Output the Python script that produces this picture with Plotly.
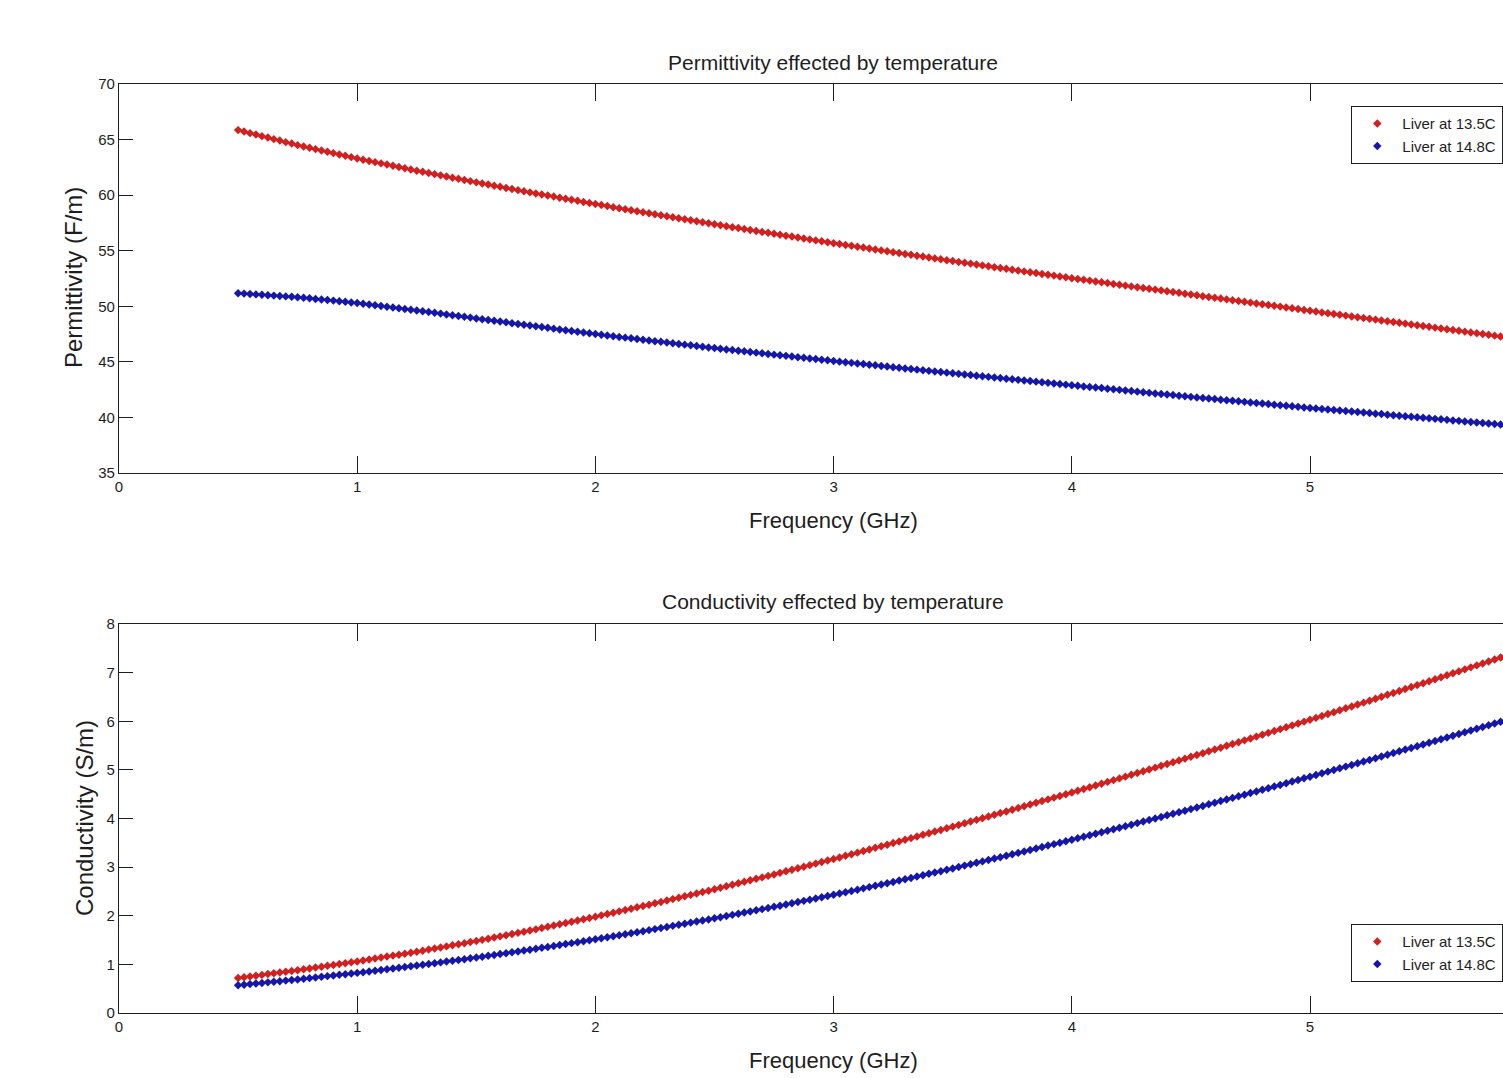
import plotly.graph_objects as go

# ---------------- data ----------------
freq_ghz = [
    0.5, 0.525, 0.55, 0.575, 0.6, 0.625, 0.65, 0.675, 0.7, 0.725,
    0.75, 0.775, 0.8, 0.825, 0.85, 0.875, 0.9, 0.925, 0.95, 0.975,
    1.0, 1.025, 1.05, 1.075, 1.1, 1.125, 1.15, 1.175, 1.2, 1.225,
    1.25, 1.275, 1.3, 1.325, 1.35, 1.375, 1.4, 1.425, 1.45, 1.475,
    1.5, 1.525, 1.55, 1.575, 1.6, 1.625, 1.65, 1.675, 1.7, 1.725,
    1.75, 1.775, 1.8, 1.825, 1.85, 1.875, 1.9, 1.925, 1.95, 1.975,
    2.0, 2.025, 2.05, 2.075, 2.1, 2.125, 2.15, 2.175, 2.2, 2.225,
    2.25, 2.275, 2.3, 2.325, 2.35, 2.375, 2.4, 2.425, 2.45, 2.475,
    2.5, 2.525, 2.55, 2.575, 2.6, 2.625, 2.65, 2.675, 2.7, 2.725,
    2.75, 2.775, 2.8, 2.825, 2.85, 2.875, 2.9, 2.925, 2.95, 2.975,
    3.0, 3.025, 3.05, 3.075, 3.1, 3.125, 3.15, 3.175, 3.2, 3.225,
    3.25, 3.275, 3.3, 3.325, 3.35, 3.375, 3.4, 3.425, 3.45, 3.475,
    3.5, 3.525, 3.55, 3.575, 3.6, 3.625, 3.65, 3.675, 3.7, 3.725,
    3.75, 3.775, 3.8, 3.825, 3.85, 3.875, 3.9, 3.925, 3.95, 3.975,
    4.0, 4.025, 4.05, 4.075, 4.1, 4.125, 4.15, 4.175, 4.2, 4.225,
    4.25, 4.275, 4.3, 4.325, 4.35, 4.375, 4.4, 4.425, 4.45, 4.475,
    4.5, 4.525, 4.55, 4.575, 4.6, 4.625, 4.65, 4.675, 4.7, 4.725,
    4.75, 4.775, 4.8, 4.825, 4.85, 4.875, 4.9, 4.925, 4.95, 4.975,
    5.0, 5.025, 5.05, 5.075, 5.1, 5.125, 5.15, 5.175, 5.2, 5.225,
    5.25, 5.275, 5.3, 5.325, 5.35, 5.375, 5.4, 5.425, 5.45, 5.475,
    5.5, 5.525, 5.55, 5.575, 5.6, 5.625, 5.65, 5.675, 5.7, 5.725,
    5.75, 5.775, 5.8, 5.825,
]

perm_liver_13_5 = [
    65.85, 65.72, 65.58, 65.45, 65.31, 65.18, 65.04, 64.91, 64.77, 64.64,
    64.50, 64.38, 64.26, 64.14, 64.02, 63.90, 63.78, 63.66, 63.54, 63.42,
    63.30, 63.19, 63.08, 62.97, 62.86, 62.75, 62.64, 62.53, 62.42, 62.31,
    62.20, 62.10, 61.99, 61.89, 61.78, 61.68, 61.57, 61.47, 61.36, 61.26,
    61.15, 61.05, 60.95, 60.85, 60.75, 60.65, 60.55, 60.45, 60.35, 60.25,
    60.15, 60.06, 59.96, 59.87, 59.77, 59.68, 59.58, 59.49, 59.39, 59.30,
    59.20, 59.11, 59.02, 58.92, 58.83, 58.74, 58.65, 58.56, 58.46, 58.37,
    58.28, 58.19, 58.10, 58.01, 57.92, 57.83, 57.74, 57.65, 57.56, 57.47,
    57.38, 57.29, 57.21, 57.12, 57.04, 56.95, 56.86, 56.78, 56.69, 56.61,
    56.52, 56.44, 56.35, 56.27, 56.18, 56.10, 56.02, 55.93, 55.85, 55.76,
    55.68, 55.60, 55.52, 55.44, 55.36, 55.28, 55.19, 55.11, 55.03, 54.95,
    54.87, 54.79, 54.71, 54.63, 54.55, 54.47, 54.39, 54.31, 54.23, 54.15,
    54.07, 53.99, 53.91, 53.84, 53.76, 53.68, 53.60, 53.52, 53.45, 53.37,
    53.29, 53.21, 53.14, 53.06, 52.99, 52.91, 52.83, 52.76, 52.68, 52.61,
    52.53, 52.46, 52.38, 52.31, 52.23, 52.16, 52.09, 52.01, 51.94, 51.86,
    51.79, 51.72, 51.64, 51.57, 51.50, 51.43, 51.35, 51.28, 51.21, 51.13,
    51.06, 50.99, 50.91, 50.84, 50.77, 50.70, 50.62, 50.55, 50.48, 50.40,
    50.33, 50.26, 50.18, 50.11, 50.04, 49.97, 49.89, 49.82, 49.75, 49.67,
    49.60, 49.53, 49.45, 49.38, 49.31, 49.24, 49.16, 49.09, 49.02, 48.94,
    48.87, 48.80, 48.73, 48.65, 48.58, 48.51, 48.44, 48.37, 48.29, 48.22,
    48.15, 48.08, 48.01, 47.93, 47.86, 47.79, 47.72, 47.65, 47.57, 47.50,
    47.43, 47.36, 47.28, 47.21,
]

perm_liver_14_8 = [
    51.17, 51.14, 51.10, 51.07, 51.03, 51.00, 50.96, 50.93, 50.89, 50.86,
    50.82, 50.77, 50.72, 50.66, 50.61, 50.56, 50.51, 50.46, 50.40, 50.35,
    50.30, 50.23, 50.16, 50.10, 50.03, 49.96, 49.89, 49.82, 49.76, 49.69,
    49.62, 49.55, 49.48, 49.41, 49.34, 49.27, 49.19, 49.12, 49.05, 48.98,
    48.91, 48.84, 48.77, 48.70, 48.63, 48.56, 48.48, 48.41, 48.34, 48.27,
    48.20, 48.13, 48.06, 47.99, 47.92, 47.85, 47.78, 47.71, 47.64, 47.57,
    47.50, 47.44, 47.37, 47.31, 47.24, 47.18, 47.12, 47.05, 46.99, 46.92,
    46.86, 46.80, 46.74, 46.67, 46.61, 46.55, 46.49, 46.43, 46.36, 46.30,
    46.24, 46.18, 46.12, 46.06, 46.00, 45.95, 45.89, 45.83, 45.77, 45.71,
    45.65, 45.59, 45.54, 45.48, 45.42, 45.37, 45.31, 45.25, 45.19, 45.14,
    45.08, 45.02, 44.97, 44.91, 44.86, 44.80, 44.74, 44.69, 44.63, 44.58,
    44.52, 44.47, 44.41, 44.36, 44.30, 44.25, 44.19, 44.14, 44.08, 44.03,
    43.97, 43.92, 43.86, 43.81, 43.75, 43.70, 43.65, 43.59, 43.54, 43.48,
    43.43, 43.38, 43.32, 43.27, 43.22, 43.17, 43.11, 43.06, 43.01, 42.95,
    42.90, 42.85, 42.79, 42.74, 42.69, 42.64, 42.58, 42.53, 42.48, 42.42,
    42.37, 42.32, 42.27, 42.21, 42.16, 42.11, 42.06, 42.01, 41.95, 41.90,
    41.85, 41.80, 41.75, 41.70, 41.65, 41.60, 41.55, 41.50, 41.45, 41.40,
    41.35, 41.30, 41.25, 41.20, 41.15, 41.10, 41.05, 41.00, 40.95, 40.90,
    40.85, 40.80, 40.76, 40.71, 40.67, 40.62, 40.57, 40.53, 40.48, 40.44,
    40.39, 40.34, 40.30, 40.25, 40.20, 40.16, 40.11, 40.06, 40.01, 39.97,
    39.92, 39.87, 39.83, 39.78, 39.73, 39.69, 39.64, 39.59, 39.54, 39.50,
    39.45, 39.40, 39.36, 39.31,
]

cond_liver_13_5 = [
    0.720, 0.736, 0.752, 0.768, 0.784, 0.800, 0.816, 0.832, 0.848, 0.864,
    0.880, 0.898, 0.916, 0.934, 0.952, 0.970, 0.988, 1.006, 1.024, 1.042,
    1.060, 1.080, 1.100, 1.120, 1.140, 1.160, 1.180, 1.200, 1.220, 1.240,
    1.260, 1.282, 1.304, 1.326, 1.348, 1.370, 1.392, 1.414, 1.436, 1.458,
    1.480, 1.504, 1.528, 1.552, 1.576, 1.600, 1.624, 1.648, 1.672, 1.696,
    1.720, 1.746, 1.772, 1.798, 1.824, 1.850, 1.876, 1.902, 1.928, 1.954,
    1.980, 2.008, 2.035, 2.063, 2.090, 2.118, 2.145, 2.173, 2.200, 2.228,
    2.255, 2.284, 2.313, 2.342, 2.371, 2.400, 2.429, 2.458, 2.487, 2.516,
    2.545, 2.576, 2.606, 2.637, 2.667, 2.698, 2.728, 2.759, 2.789, 2.820,
    2.850, 2.882, 2.914, 2.945, 2.977, 3.009, 3.041, 3.072, 3.104, 3.136,
    3.168, 3.200, 3.233, 3.266, 3.298, 3.331, 3.364, 3.397, 3.429, 3.462,
    3.495, 3.529, 3.563, 3.596, 3.630, 3.664, 3.698, 3.731, 3.765, 3.799,
    3.833, 3.867, 3.902, 3.937, 3.972, 4.006, 4.041, 4.076, 4.111, 4.145,
    4.180, 4.216, 4.251, 4.287, 4.322, 4.358, 4.393, 4.429, 4.464, 4.500,
    4.535, 4.571, 4.608, 4.644, 4.680, 4.716, 4.753, 4.789, 4.825, 4.861,
    4.898, 4.935, 4.972, 5.009, 5.046, 5.083, 5.120, 5.157, 5.194, 5.231,
    5.268, 5.305, 5.343, 5.381, 5.419, 5.456, 5.494, 5.532, 5.570, 5.607,
    5.645, 5.684, 5.722, 5.761, 5.799, 5.838, 5.876, 5.915, 5.953, 5.992,
    6.030, 6.069, 6.109, 6.148, 6.187, 6.226, 6.266, 6.305, 6.344, 6.383,
    6.423, 6.463, 6.503, 6.543, 6.583, 6.623, 6.663, 6.703, 6.743, 6.783,
    6.823, 6.863, 6.904, 6.945, 6.986, 7.026, 7.067, 7.108, 7.149, 7.189,
    7.230, 7.271, 7.313, 7.354,
]

cond_liver_14_8 = [
    0.570, 0.582, 0.594, 0.606, 0.618, 0.630, 0.642, 0.654, 0.666, 0.678,
    0.690, 0.704, 0.717, 0.731, 0.744, 0.758, 0.771, 0.785, 0.798, 0.812,
    0.825, 0.840, 0.855, 0.870, 0.885, 0.900, 0.915, 0.930, 0.945, 0.960,
    0.975, 0.992, 1.008, 1.025, 1.041, 1.058, 1.074, 1.091, 1.107, 1.124,
    1.140, 1.158, 1.176, 1.194, 1.212, 1.230, 1.248, 1.266, 1.284, 1.302,
    1.320, 1.340, 1.359, 1.379, 1.398, 1.418, 1.437, 1.457, 1.476, 1.496,
    1.515, 1.536, 1.557, 1.578, 1.599, 1.620, 1.641, 1.662, 1.683, 1.704,
    1.725, 1.747, 1.770, 1.792, 1.814, 1.836, 1.859, 1.881, 1.903, 1.925,
    1.948, 1.971, 1.995, 2.018, 2.042, 2.065, 2.089, 2.112, 2.136, 2.159,
    2.183, 2.207, 2.232, 2.257, 2.282, 2.306, 2.331, 2.356, 2.381, 2.405,
    2.430, 2.457, 2.483, 2.510, 2.536, 2.563, 2.589, 2.616, 2.642, 2.669,
    2.695, 2.723, 2.751, 2.778, 2.806, 2.834, 2.862, 2.889, 2.917, 2.945,
    2.973, 3.002, 3.031, 3.060, 3.089, 3.118, 3.147, 3.176, 3.205, 3.234,
    3.263, 3.293, 3.323, 3.353, 3.383, 3.413, 3.443, 3.473, 3.503, 3.533,
    3.563, 3.594, 3.625, 3.656, 3.687, 3.718, 3.749, 3.780, 3.811, 3.842,
    3.873, 3.905, 3.937, 3.969, 4.001, 4.033, 4.065, 4.097, 4.129, 4.161,
    4.193, 4.226, 4.259, 4.292, 4.325, 4.358, 4.391, 4.424, 4.457, 4.490,
    4.523, 4.556, 4.590, 4.624, 4.658, 4.691, 4.725, 4.759, 4.793, 4.826,
    4.860, 4.895, 4.929, 4.964, 4.998, 5.033, 5.067, 5.102, 5.136, 5.171,
    5.205, 5.240, 5.276, 5.311, 5.346, 5.381, 5.417, 5.452, 5.487, 5.522,
    5.558, 5.594, 5.630, 5.666, 5.702, 5.738, 5.774, 5.810, 5.846, 5.882,
    5.918, 5.954, 5.991, 6.027,
]

series_names = ["Liver at 13.5C", "Liver at 14.8C"]
x_tick_values = [0, 1, 2, 3, 4, 5, 6]
perm_tick_values = [35, 40, 45, 50, 55, 60, 65, 70]
cond_tick_values = [0, 1, 2, 3, 4, 5, 6, 7, 8]

title_top = "Permittivity effected by temperature"
title_bottom = "Conductivity effected by temperature"
xlabel = "Frequency (GHz)"
ylabel_top = "Permittivity (F/m)"
ylabel_bottom = "Conductivity (S/m)"

# ---------------- styling ----------------
W, H = 1503, 1078
LEFT = 119
FONT = "Liberation Sans, Arial, Helvetica, sans-serif"
RED = "rgb(208,32,32)"
BLUE = "rgb(22,22,168)"
INK = "#1e1e1e"

def py(px):  # pixel row -> paper y (margins are zero top/bottom)
    return 1 - px / H

def px_x(px):  # pixel column -> paper x
    return (px - LEFT) / (W - LEFT)

fig = go.Figure()
for yvals, name, col in [(perm_liver_13_5, series_names[0], RED),
                         (perm_liver_14_8, series_names[1], BLUE)]:
    fig.add_trace(go.Scatter(
        x=freq_ghz, y=yvals, name=name, mode="markers",
        marker=dict(symbol="diamond", size=6.5, color=col, line=dict(width=0)),
        xaxis="x", yaxis="y", legend="legend"))
for yvals, name, col in [(cond_liver_13_5, series_names[0], RED),
                         (cond_liver_14_8, series_names[1], BLUE)]:
    fig.add_trace(go.Scatter(
        x=freq_ghz, y=yvals, name=name, mode="markers",
        marker=dict(symbol="diamond", size=6.5, color=col, line=dict(width=0)),
        xaxis="x2", yaxis="y2", legend="legend2"))

x_span_end = (W - LEFT) / 238.2  # visible part of the 0..6 GHz axis

xcommon = dict(range=[0, x_span_end], tickmode="array", tickvals=x_tick_values,
               ticks="inside", ticklen=17, tickwidth=1.3, tickcolor=INK,
               showline=True, linecolor=INK, linewidth=1.3, mirror="ticks",
               showgrid=False, zeroline=False,
               tickfont=dict(family=FONT, size=15, color=INK), domain=[0, 1])
ycommon = dict(tickmode="array", ticks="inside", ticklen=14, tickwidth=1.3,
               tickcolor=INK, showline=True, linecolor=INK, linewidth=1.3,
               mirror=False, showgrid=False, zeroline=False,
               tickfont=dict(family=FONT, size=15, color=INK))

legend_common = dict(xref="paper", yref="paper", x=1.0, xanchor="right",
                     yanchor="top", bgcolor="white", bordercolor=INK,
                     borderwidth=1.3, itemwidth=40,
                     font=dict(family=FONT, size=15, color=INK))

fig.update_layout(
    width=W, height=H, autosize=False,
    margin=dict(l=LEFT, r=0, t=0, b=0, pad=0, autoexpand=False),
    paper_bgcolor="white", plot_bgcolor="white",
    font=dict(family=FONT, color=INK),
    xaxis=dict(anchor="y", **xcommon),
    yaxis=dict(anchor="x", range=[35, 70], tickvals=perm_tick_values,
               domain=[py(473), py(84)], **ycommon),
    xaxis2=dict(anchor="y2", **xcommon),
    yaxis2=dict(anchor="x2", range=[0, 8], tickvals=cond_tick_values,
                domain=[py(1013), py(624)], **ycommon),
    legend=dict(y=py(106), **legend_common),
    legend2=dict(y=py(924), **legend_common),
    showlegend=True,
)

center_x = px_x(833)
ann = [
    (title_top, center_x, py(62), 21, 0),
    (title_bottom, center_x, py(601), 21, 0),
    (xlabel, center_x, py(520), 22, 0),
    (xlabel, center_x, py(1060), 22, 0),
    (ylabel_top, px_x(74), py(278), 24, -90),
    (ylabel_bottom, px_x(84), py(818), 24, -90),
]
for text, ax, ay, size, angle in ann:
    fig.add_annotation(xref="paper", yref="paper", showarrow=False,
                       xanchor="center", yanchor="middle",
                       font=dict(family=FONT, color=INK, size=size),
                       text=text, x=ax, y=ay, textangle=angle)

fig.write_html("out.html", config={"displayModeBar": False},
               post_script="document.body.style.margin='0';document.body.style.overflow='hidden';")
